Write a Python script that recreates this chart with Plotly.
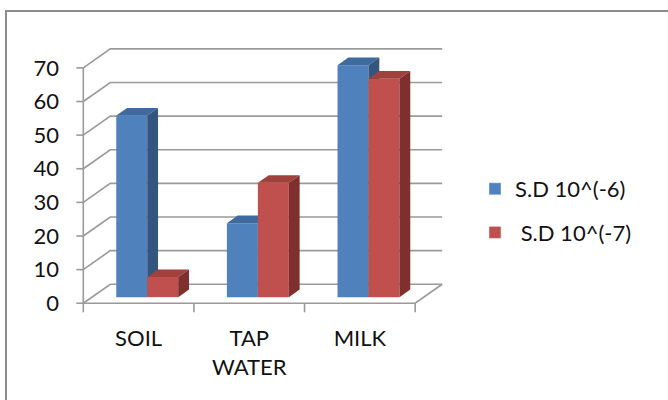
import plotly.graph_objects as go

categories = ["SOIL", "TAP<br>WATER", "MILK"]
series_names = ["S.D 10^(-6)", "\u00a0S.D 10^(-7)"]
sd6 = [54, 22, 69]
sd7 = [6, 34, 65]
y_ticks = [0, 10, 20, 30, 40, 50, 60, 70]

# geometry (styling) of the pseudo-3D projection
DX, DY = 0.244, 5.65      # full depth offset in axis units
F0, FD = 0.32, 0.40       # bar front plane and bar depth (fractions of full depth)
W = 0.28                  # bar width
GRID = "#9a9a9a"

front = ["#4F81BD", "#C0504D"]
top_c = ["#3F6A9E", "#A0413E"]
side_c = ["#34557E", "#7F2F2D"]

fig = go.Figure()

def line(xs, ys, color=GRID, width=1.6):
    fig.add_trace(go.Scatter(x=xs, y=ys, mode="lines", line=dict(color=color, width=width),
                             showlegend=False, hoverinfo="skip"))

def poly(xs, ys, color):
    fig.add_trace(go.Scatter(x=xs + [xs[0]], y=ys + [ys[0]], mode="lines", fill="toself",
                             fillcolor=color, line=dict(width=0, color=color),
                             showlegend=False, hoverinfo="skip"))

n = len(categories)
x0, x1 = -0.5, n - 0.5
# back wall gridlines and obliques
for v in y_ticks:
    line([x0, x0 + DX, x1 + DX], [v, v + DY, v + DY])
    line([x0 - 0.063, x0], [v, v])
# floor front and right edges
line([x0, x1, x1 + DX], [0, 0, DY])
# front vertical axis
line([x0, x0], [0, y_ticks[-1]])
# category ticks
for k in range(n + 1):
    line([x0 + k, x0 + k], [0, -2.7])

base = F0 * DY
for i in range(n):
    c = i + F0 * DX
    for s, vals in enumerate([sd6, sd7]):
        left = c - W if s == 0 else c
        right = left + W
        t = base + vals[i]
        ddx, ddy = FD * DX, FD * DY
        poly([left, right, right, left], [base, base, t, t], front[s])
        poly([left, right, right + ddx, left + ddx], [t, t, t + ddy, t + ddy], top_c[s])
        poly([right, right + ddx, right + ddx, right], [base, base + ddy, t + ddy, t], side_c[s])

# legend entries
for s in range(2):
    fig.add_trace(go.Bar(x=[None], y=[None], name=series_names[s], marker_color=front[s],
                         legendgroup=f"g{s}"))

L, R, T, B = 70, 213, 41, 85
PW, PH = 668 - L - R, 400 - T - B
def px_x(p):
    return (p - L) / PW
def px_y(p):
    return 1 - (p - T) / PH

fig.update_layout(
    width=668, height=400,
    margin=dict(l=L, r=R, t=T, b=B, pad=0),
    paper_bgcolor="white", plot_bgcolor="white",
    font=dict(family="Lato, Open Sans, sans-serif", size=22, color="#111111"),
    xaxis=dict(range=[-0.62, 2.86], tickvals=list(range(n)), ticktext=categories,
               showgrid=False, zeroline=False, showline=False, ticks="",
               ticklabelstandoff=8, fixedrange=True),
    yaxis=dict(range=[-3.5, 78], tickvals=y_ticks, showgrid=False, zeroline=False,
               showline=False, ticks="", ticklabelstandoff=10, fixedrange=True),
    showlegend=True,
    legend=dict(x=px_x(475), y=px_y(168), xanchor="left", yanchor="top",
                font=dict(size=22), tracegroupgap=12, bgcolor="rgba(0,0,0,0)"),
    shapes=[dict(type="rect", xref="paper", yref="paper",
                 x0=px_x(6), x1=px_x(720), y0=px_y(440), y1=px_y(11),
                 line=dict(color="#8c8c8c", width=2), layer="below")],
)

fig.write_html("out.html")
